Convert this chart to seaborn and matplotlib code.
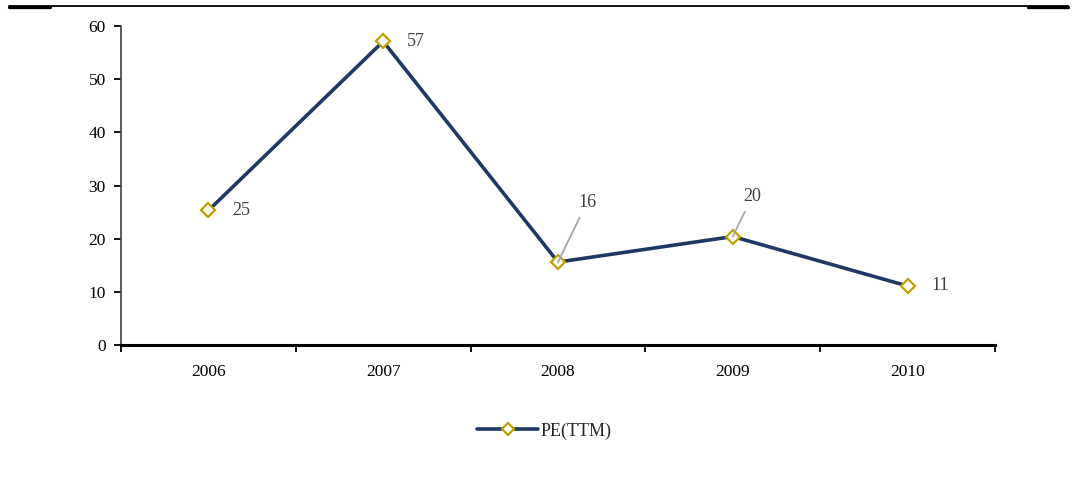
import matplotlib
matplotlib.use("Agg")
import matplotlib.pyplot as plt
from matplotlib.lines import Line2D
import seaborn as sns
import pandas as pd

years = ["2006", "2007", "2008", "2009", "2010"]
pe_ttm = [25.3, 57.1, 15.6, 20.4, 11.1]
series_name = "PE(TTM)"

sns.set_style("white")
plt.rcParams["font.family"] = ["Liberation Serif", "DejaVu Serif"]

df = pd.DataFrame({"year": years, "pe": pe_ttm, "series": series_name})
df["x"] = range(len(years))

fig = plt.figure(figsize=(10.76, 5.01), dpi=100)
ax = fig.add_axes([121 / 1076, 1 - 345 / 501, (995 - 121) / 1076, (345 - 26) / 501])

navy = "#1F3864"
gold = "#BFA100"

sns.lineplot(data=df, x="x", y="pe", hue="series", palette=[navy], ax=ax,
             linewidth=2.6, marker="D", markersize=7, markerfacecolor="white",
             markeredgecolor=gold, markeredgewidth=1.6, legend=False)

ax.set_xlim(-0.5, len(years) - 0.5)
ax.set_ylim(0, 60)
ax.set_yticks(range(0, 61, 10))
ax.set_xticks(range(len(years)))
ax.set_xticklabels(years)
ax.set_xticks([i - 0.5 for i in range(len(years) + 1)], minor=True)
ax.tick_params(axis="x", which="major", bottom=True, length=0, pad=14, labelsize=12.5, colors="black")
ax.tick_params(axis="x", which="minor", bottom=True, length=5, width=1.3, direction="out", color="black")
ax.tick_params(axis="y", which="major", left=True, length=5, width=1.3, direction="out",
               labelsize=12.5, pad=6, colors="black")
ax.set_xlabel("")
ax.set_ylabel("")
for s in ("top", "right"):
    ax.spines[s].set_visible(False)
ax.spines["left"].set_color("#404040")
ax.spines["left"].set_linewidth(1.2)
ax.spines["bottom"].set_color("black")
ax.spines["bottom"].set_linewidth(2.2)

# value labels; the two middle ones sit above the line with a leader
label_kw = dict(fontsize=13, color="#404040", va="center")
placement = {0: (17, 0, False), 1: (17, 0, False), 2: (21, 37, True), 3: (14, 23, True), 4: (17, 0, False)}
for i, v in enumerate(pe_ttm):
    dx, dy, leader = placement[i]
    if leader:
        ax.annotate(f"{v:.0f}", xy=(i, v), xytext=(dx, dy), textcoords="offset points",
                    ha="center", va="bottom", fontsize=13, color="#404040",
                    arrowprops=dict(arrowstyle="-", color="#A6A6A6", lw=1.3,
                                    shrinkA=3, shrinkB=0))
    else:
        ax.annotate(f"{v:.0f}", xy=(i, v), xytext=(dx, dy), textcoords="offset points",
                    ha="left", **label_kw)

handle = Line2D([], [], color=navy, linewidth=2.6, marker="D", markersize=6,
                markerfacecolor="white", markeredgecolor=gold, markeredgewidth=1.6)
fig.legend([handle], [series_name], loc="center", bbox_to_anchor=(544 / 1076, 1 - 431 / 501),
           frameon=False, fontsize=13, handlelength=3.4, handletextpad=0.1)

# header rule across the page
fig.add_artist(Line2D([9 / 1076, 1068 / 1076], [1 - 6.3 / 501] * 2, color="black", lw=1.3))
fig.add_artist(Line2D([9 / 1076, 50 / 1076], [1 - 6.8 / 501] * 2, color="black", lw=2.4))
fig.add_artist(Line2D([1028 / 1076, 1068 / 1076], [1 - 6.8 / 501] * 2, color="black", lw=2.4))

fig.savefig("out.png", dpi=100)
